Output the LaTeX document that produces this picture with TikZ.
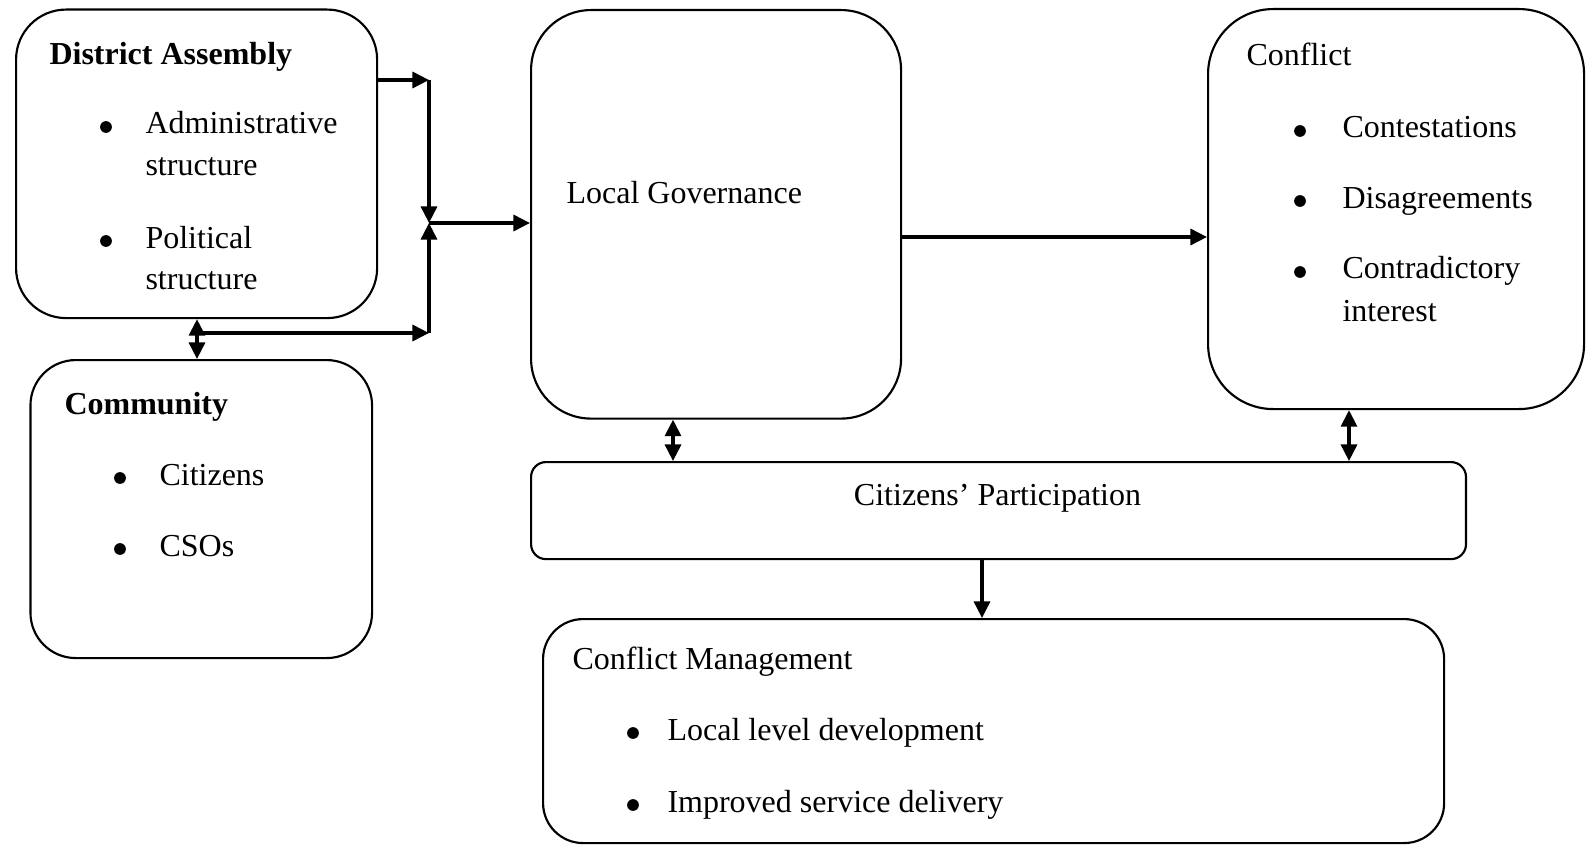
\documentclass[tikz,border=0pt]{standalone}
\usepackage{fontspec}
\setmainfont{Liberation Serif}
\usetikzlibrary{arrows.meta,calc}
\begin{document}
\begin{tikzpicture}[x=0.375pt,y=-0.375pt,
  box/.style={draw=black,line width=0.8pt,inner sep=0pt,anchor=north west},
  txt/.style={anchor=base west,inner sep=0pt,font=\fontsize{12}{14}\selectfont},
  btxt/.style={txt,font=\fontsize{12}{14}\selectfont\bfseries},
  bul/.style={circle,fill=black,inner sep=0pt,minimum size=4.4pt},
  arr/.style={line width=1.2pt,-{Triangle[length=6.2pt,width=6pt]}},
  darr/.style={line width=1.2pt,{Triangle[length=6.2pt,width=6pt]}-{Triangle[length=6.2pt,width=6pt]}}
]
\useasboundingbox (0,0) rectangle (1589,845);

% boxes
\node[box,rounded corners=18.75pt,minimum width=135.4pt,minimum height=115.7pt] (da) at (15,8.5) {};
\node[box,rounded corners=17pt,minimum width=128.1pt,minimum height=111.75pt] (com) at (29.4,359) {};
\node[box,rounded corners=22.5pt,minimum width=138.75pt,minimum height=153.2pt] (lg) at (530,9) {};
\node[box,rounded corners=24.4pt,minimum width=141pt,minimum height=150pt] (con) at (1207,8) {};
\node[box,rounded corners=5.6pt,minimum width=350.6pt,minimum height=36.4pt] (cp) at (530,461) {};
\node[box,rounded corners=15pt,minimum width=337.9pt,minimum height=84pt] (cm) at (542,618) {};

% District Assembly text
\node[btxt] (daT) at (49,65) {District Assembly};
\node[bul] (daB1) at (106,127) {};
\node[txt] (daI1) at (145,134) {Administrative};
\node[txt] (daI1b) at (145,176) {structure};
\node[bul] (daB2) at (106,241) {};
\node[txt] (daI2) at (145,248) {Political};
\node[txt] (daI2b) at (145,289) {structure};

% Community text
\node[btxt] (comT) at (64,414) {Community};
\node[bul] (comB1) at (120,478) {};
\node[txt] (comI1) at (159,485) {Citizens};
\node[bul] (comB2) at (120,549) {};
\node[txt] (comI2) at (159,556) {CSOs};

% Local Governance
\node[txt] (lgT) at (566,203) {Local Governance};

% Conflict
\node[txt] (conT) at (1246,66) {Conflict};
\node[bul] (conB1) at (1300,131) {};
\node[txt] (conI1) at (1342,138) {Contestations};
\node[bul] (conB2) at (1300,201) {};
\node[txt] (conI2) at (1342,208) {Disagreements};
\node[bul] (conB3) at (1300,272) {};
\node[txt] (conI3) at (1342,279) {Contradictory};
\node[txt] (conI3b) at (1342,322) {interest};

% Citizens' Participation
\node[anchor=base,inner sep=0pt,font=\fontsize{12}{14}\selectfont] (cpT) at (997.5,505) {Citizens’ Participation};

% Conflict Management
\node[txt] (cmT) at (572,669) {Conflict Management};
\node[bul] (cmB1) at (633,733) {};
\node[txt] (cmI1) at (667,740) {Local level development};
\node[bul] (cmB2) at (633,805) {};
\node[txt] (cmI2) at (667,812) {Improved service delivery};

% junction coordinates
\coordinate (j1) at (429,80);
\coordinate (jc) at (429,223);
\coordinate (j2) at (429,333);
\coordinate (dc) at (197,333);

% connectors
\draw[arr] (da.east |- j1) -- (j1);
\draw[arr] (j1) -- (jc);
\draw[arr] (j2) -- (jc);
\draw[arr] (jc) -- (lg.west |- jc);
\draw[darr] (da.south -| dc) -- (com.north -| dc);
\draw[arr] (dc) -- (j2);
\coordinate (lc) at (900,237);
\draw[arr] (lg.east |- lc) -- (con.west |- lc);
\coordinate (x1) at (673,0);
\draw[darr] (lg.south -| x1) -- (cp.north -| x1);
\coordinate (x2) at (1349,0);
\draw[darr] (con.south -| x2) -- (cp.north -| x2);
\coordinate (x3) at (982,0);
\draw[arr] (cp.south -| x3) -- (cm.north -| x3);
\end{tikzpicture}
\end{document}
